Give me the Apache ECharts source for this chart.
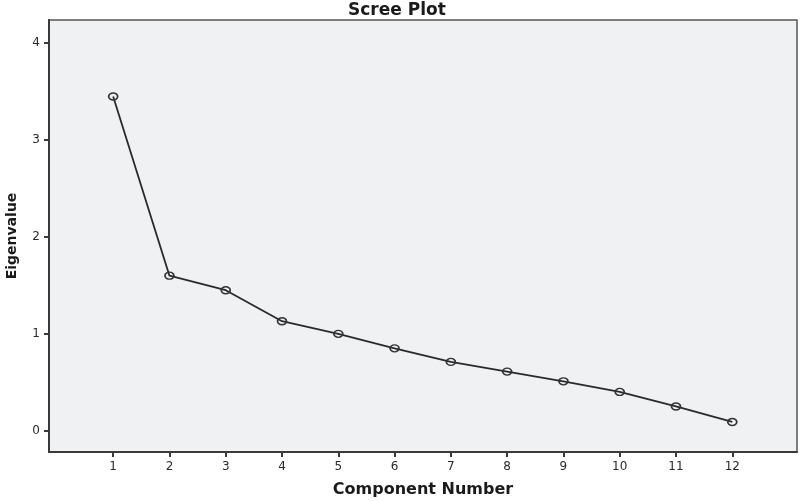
<!DOCTYPE html>
<html>
<head>
<meta charset="utf-8">
<script src="https://cdn.jsdelivr.net/npm/echarts@6/dist/echarts.min.js"></script>
<style>html,body{margin:0;padding:0;background:#fff}#c{width:800px;height:501px}</style>
</head>
<body>
<div id="c"></div>
<script>
var components = [1,2,3,4,5,6,7,8,9,10,11,12];
var eigenvalues = [3.45,1.60,1.45,1.13,1.00,0.85,0.71,0.61,0.51,0.40,0.25,0.09];
var xTicks = [1,2,3,4,5,6,7,8,9,10,11,12];
var yTicks = [0,1,2,3,4];

var chart = echarts.init(document.getElementById('c'));
var font = 'DejaVu Sans';
chart.setOption({
  animation: false,
  backgroundColor: '#fff',
  title: {
    text: 'Scree Plot', left: 343, top: -3,
    textStyle: {fontFamily: font, fontWeight: 'bold', fontSize: 17, color: '#1a1a1a'}
  },
  grid: {
    left: 49, right: 3, top: 20, bottom: 49,
    outerBoundsMode: 'none', containLabel: false,
    show: true, backgroundColor: '#f0f1f3', borderColor: '#555', borderWidth: 1.5
  },
  xAxis: {
    type: 'value', min: -0.14, max: 13.15,
    name: 'Component Number', nameLocation: 'middle', nameGap: 30,
    nameTextStyle: {fontFamily: font, fontWeight: 'bold', fontSize: 16, color: '#1a1a1a'},
    axisLine: {show: true, onZero: false, lineStyle: {color: '#3a3a3a', width: 2}},
    axisTick: {show: true, length: 5, customValues: xTicks, lineStyle: {color: '#3a3a3a', width: 2}},
    axisLabel: {customValues: xTicks, margin: 9, fontFamily: font, fontSize: 12, color: '#2a2a2a'},
    splitLine: {show: false}
  },
  yAxis: {
    type: 'value', min: -0.22, max: 4.24,
    name: 'Eigenvalue', nameLocation: 'middle', nameGap: 30,
    nameTextStyle: {fontFamily: font, fontWeight: 'bold', fontSize: 14, color: '#1a1a1a'},
    axisLine: {show: true, onZero: false, lineStyle: {color: '#3a3a3a', width: 2}},
    axisTick: {show: true, length: 5, customValues: yTicks, lineStyle: {color: '#3a3a3a', width: 2}},
    axisLabel: {customValues: yTicks, margin: 9, fontFamily: font, fontSize: 12, color: '#2a2a2a'},
    splitLine: {show: false}
  },
  series: [{
    type: 'line',
    data: components.map(function (c, i) { return [c, eigenvalues[i]]; }),
    symbol: 'circle', symbolSize: [9, 7],
    lineStyle: {color: '#2a2a2a', width: 1.8},
    itemStyle: {color: 'rgba(0,0,0,0)', borderColor: '#333', borderWidth: 1.5}
  }]
});
</script>
</body>
</html>
